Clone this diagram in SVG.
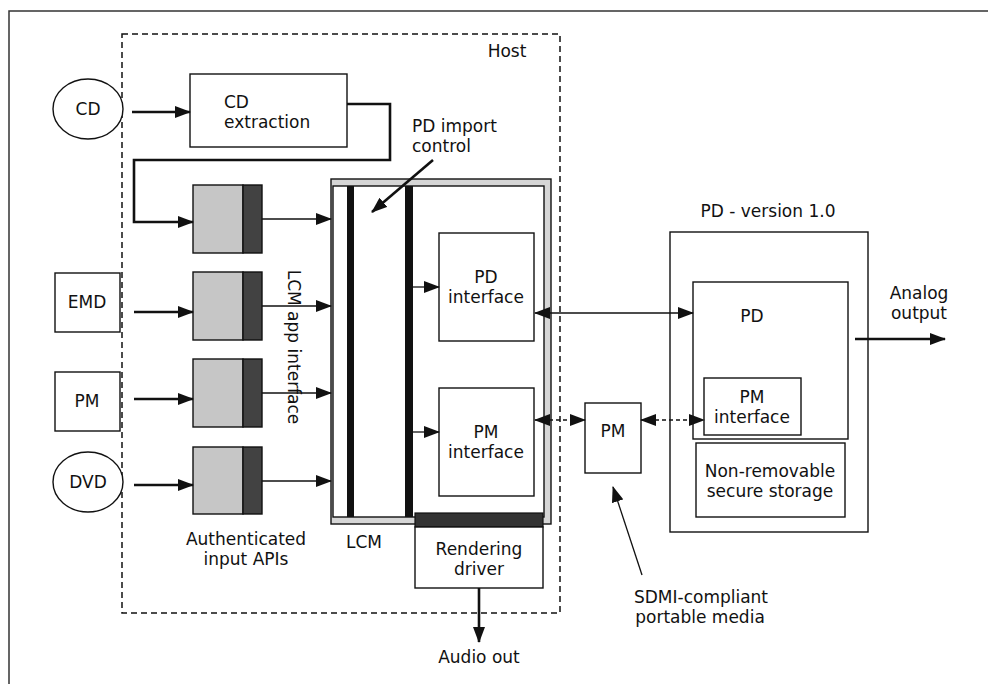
<svg xmlns="http://www.w3.org/2000/svg" width="988" height="684" viewBox="0 0 988 684">
<style>
text{font-family:"DejaVu Sans","Open Sans",sans-serif;font-size:17px;fill:#111;text-anchor:middle}
.box{fill:#fff;stroke:#111;stroke-width:1.4}
.thick{fill:none;stroke:#111;stroke-width:2.6}
.thin{fill:none;stroke:#111;stroke-width:1.3}
.dash{fill:none;stroke:#111;stroke-width:1.3;stroke-dasharray:4 3}
.light{fill:#c6c6c6;stroke:#111;stroke-width:1.4}
.dark{fill:#424242;stroke:#111;stroke-width:1.4}
</style>
<defs>
<marker id="ah" markerUnits="userSpaceOnUse" markerWidth="16" markerHeight="12" refX="15" refY="6" orient="auto">
<path d="M0,0 L16,6 L0,12 Z" fill="#111"/>
</marker>
<marker id="ahs" markerUnits="userSpaceOnUse" markerWidth="16" markerHeight="12" refX="1" refY="6" orient="auto">
<path d="M16,0 L0,6 L16,12 Z" fill="#111"/>
</marker>
</defs>
<rect width="988" height="684" fill="#fff"/>
<path d="M9,684 V11 H988" fill="none" stroke="#333" stroke-width="1.5"/>
<g id="host">
<rect x="122" y="34" width="438" height="579" fill="none" stroke="#111" stroke-width="1.5" stroke-dasharray="6 4"/>
<text x="507" y="57">Host</text>
</g>
<g id="cd"><ellipse cx="88" cy="109" rx="35" ry="30" class="box"/><text x="88" y="115">CD</text></g>
<g id="emd"><rect x="55" y="273" width="65" height="59" class="box"/><text x="87" y="308">EMD</text></g>
<g id="pm-src"><rect x="55" y="372" width="65" height="59" class="box"/><text x="87" y="407">PM</text></g>
<g id="dvd"><ellipse cx="88" cy="482" rx="35" ry="30" class="box"/><text x="88" y="488">DVD</text></g>
<g id="cd-extraction"><rect x="190" y="74" width="157" height="73" class="box"/><text x="224" y="108" style="text-anchor:start">CD</text><text x="224" y="128" style="text-anchor:start">extraction</text></g>
<g id="api1"><rect x="193" y="185" width="50" height="68" class="light"/><rect x="243" y="185" width="19" height="68" class="dark"/></g>
<g id="api2"><rect x="193" y="272" width="50" height="68" class="light"/><rect x="243" y="272" width="19" height="68" class="dark"/></g>
<g id="api3"><rect x="193" y="359" width="50" height="68" class="light"/><rect x="243" y="359" width="19" height="68" class="dark"/></g>
<g id="api4"><rect x="193" y="447" width="50" height="67" class="light"/><rect x="243" y="447" width="19" height="67" class="dark"/></g>
<g id="api-label"><text x="246" y="545">Authenticated</text><text x="246" y="565">input APIs</text></g>
<g id="lcm-app-interface"><text transform="translate(288,347) rotate(90)">LCM app interface</text></g>
<g id="lcm">
<rect x="331" y="179" width="220" height="345" fill="#d6d6d6" stroke="#111" stroke-width="1.4"/>
<rect x="333" y="186" width="211" height="331" fill="#fff" stroke="#111" stroke-width="1.4"/>
<rect x="347" y="186" width="7" height="331" fill="#111"/>
<rect x="405" y="186" width="8" height="331" fill="#111"/>
<text x="364" y="548">LCM</text>
</g>
<g id="pd-import-label"><text x="412" y="132" style="text-anchor:start">PD import</text><text x="412" y="152" style="text-anchor:start">control</text></g>
<g id="pd-interface"><rect x="439" y="233" width="95" height="108" class="box"/><text x="486" y="283">PD</text><text x="486" y="303">interface</text></g>
<g id="pm-interface"><rect x="439" y="388" width="95" height="108" class="box"/><text x="486" y="438">PM</text><text x="486" y="458">interface</text></g>
<g id="rendering-driver">
<rect x="415" y="513" width="128" height="14" fill="#333" stroke="#111" stroke-width="1.2"/>
<rect x="415" y="527" width="128" height="61" class="box"/>
<text x="479" y="555">Rendering</text><text x="479" y="575">driver</text>
</g>
<g id="audio-out"><text x="479" y="663">Audio out</text></g>
<g id="pm-media"><rect x="585" y="403" width="56" height="70" class="box"/><text x="613" y="437">PM</text></g>
<g id="sdmi-label"><text x="701" y="603">SDMI-compliant</text><text x="700" y="623">portable media</text></g>
<g id="pd-version"><rect x="670" y="232" width="198" height="300" class="box"/><text x="768" y="217">PD - version 1.0</text></g>
<g id="pd"><rect x="693" y="282" width="155" height="157" class="box"/><text x="752" y="322">PD</text></g>
<g id="pd-pm-interface"><rect x="704" y="378" width="97" height="57" class="box"/><text x="752" y="403">PM</text><text x="752" y="423">interface</text></g>
<g id="storage"><rect x="696" y="443" width="149" height="74" class="box"/><text x="770" y="477">Non-removable</text><text x="770" y="497">secure storage</text></g>
<g id="analog-label"><text x="919" y="299">Analog</text><text x="919" y="319">output</text></g>
<g id="connectors">
<path d="M132,112 H190" class="thick" marker-end="url(#ah)"/>
<path d="M347,104 H390 V160 H134 V222 H193" class="thick" marker-end="url(#ah)"/>
<path d="M134,312 H193" class="thick" marker-end="url(#ah)"/>
<path d="M134,399 H193" class="thick" marker-end="url(#ah)"/>
<path d="M134,485 H193" class="thick" marker-end="url(#ah)"/>
<path d="M262,219 H331" class="thin" marker-end="url(#ah)"/>
<path d="M262,306 H331" class="thin" marker-end="url(#ah)"/>
<path d="M262,393 H331" class="thin" marker-end="url(#ah)"/>
<path d="M262,481 H331" class="thin" marker-end="url(#ah)"/>
<path d="M433,160 L372,212" class="thick" marker-end="url(#ah)"/>
<path d="M413,287 H439" class="thin" marker-end="url(#ah)"/>
<path d="M413,432 H439" class="thin" marker-end="url(#ah)"/>
<path d="M535,313 H693" class="thin" marker-start="url(#ahs)" marker-end="url(#ah)"/>
<path d="M535,420 H585" class="dash" marker-start="url(#ahs)" marker-end="url(#ah)"/>
<path d="M641,420 H704" class="dash" marker-start="url(#ahs)" marker-end="url(#ah)"/>
<path d="M855,339 H945" class="thick" marker-end="url(#ah)"/>
<path d="M479,588 V642" class="thick" marker-end="url(#ah)"/>
<path d="M642,575 L613,487" class="thin" marker-end="url(#ah)"/>
</g>
</svg>
